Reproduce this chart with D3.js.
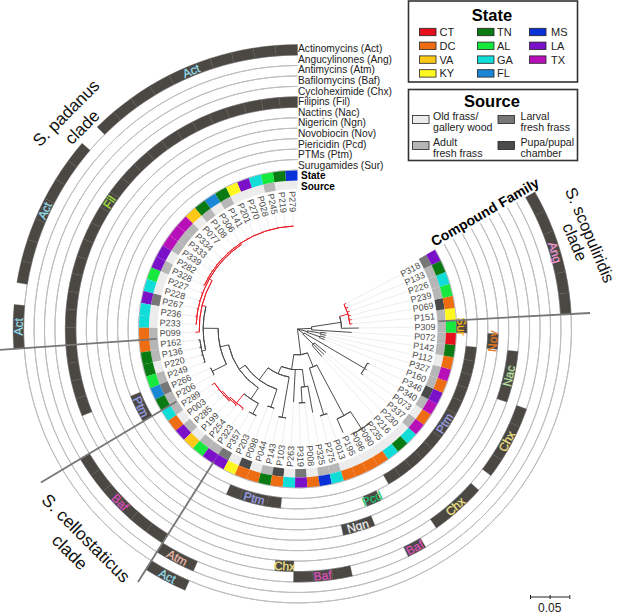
<!DOCTYPE html>
<html>
<head>
<meta charset="utf-8">
<script src="https://d3js.org/d3.v7.min.js"></script>
<style>
  body { margin: 0; background: #fff; }
  svg { display: block; font-family: "Liberation Sans", Arial, sans-serif; }
</style>
</head>
<body>
<svg id="chart"></svg>
<script>
// tips, counter-clockwise from 12 o'clock
const tipNames = ["P279","P219","P245","P028","P270","P201","P141","P306","P108","P077","P334","P333","P339","P282","P328","P227","P228","P267","P236","P233","P099","P162","P136","P220","P249","P266","P206","P289","P003","P285","P199","P254","P323","P357","P203","P098","P044","P143","P103","P263","P319","P008","P325","P275","P013","P195","P096","P090","P235","P216","P230","P337","P073","P340","P346","P160","P327","P112","P142","P072","P309","P151","P069","P239","P226","P133","P318"];
const tipStates = ["MS","TN","AL","GA","LA","KY","TN","FL","TN","VA","TX","TX","TX","LA","LA","AL","GA","LA","GA","GA","DC","DC","TN","TN","AL","FL","TN","GA","DC","LA","VA","AL","LA","LA","KY","DC","DC","TN","DC","GA","LA","DC","MS","GA","DC","DC","DC","DC","GA","TN","GA","TX","DC","TX","LA","DC","TX","DC","TN","CT","AL","KY","DC","AL","GA","TN","LA"];
const tipSources = ["old","old","adult","old","old","old","adult","old","adult","old","adult","adult","adult","old","adult","old","old","larval","old","old","adult","adult","adult","old","adult","larval","adult","adult","old","adult","old","adult","adult","larval","old","pupal","old","adult","pupal","old","larval","old","adult","adult","old","old","old","old","old","old","old","adult","old","adult","pupal","adult","adult","old","adult","adult","adult","adult","pupal","adult","adult","adult","larval"];

const stateNames = ["CT","DC","VA","KY","TN","AL","GA","FL","MS","LA","TX"];
const stateColors = ["#e8101c","#ee6c12","#fbc816","#fff820","#0a7a12","#16e83e","#10dcd8","#1a86d6","#0a30d8","#7a10c8","#b810b8"];
const sourceNames = ["old","adult","larval","pupal"];
const sourceColors = ["#ececec","#b6b6b6","#777777","#4a4a4a"];
const sourceLegend = [["Old frass/","gallery wood"],["Adult","fresh frass"],["Larval","fresh frass"],["Pupa/pupal","chamber"]];

const compoundLabels = ["Actinomycins (Act)","Angucylinones (Ang)","Antimycins (Atm)","Bafilomycins (Baf)","Cycloheximide (Chx)","Filipins (Fil)","Nactins (Nac)","Nigericin (Ngn)","Novobiocin (Nov)","Piericidin (Pcd)","PTMs (Ptm)","Surugamides (Sur)"];
const compoundCodes = ["Act","Ang","Atm","Baf","Chx","Fil","Nac","Ngn","Nov","Pcd","Ptm","Sur"];
const compoundColors = ["#93dcea","#ee9ad8","#eebca8","#dc50bc","#f2e484","#a4e23c","#bce4a8","#eeeeee","#ea7a1e","#1cc468","#9aa0e6","#f4b41e"];
// runs of producing tips per compound: [family, first tip, last tip]
const compoundRuns = [
  ["Act","P279","P077"],["Act","P333","P267"],["Act","P233","P099"],["Act","P357","P203"],
  ["Ang","P151","P318"],
  ["Atm","P357","P203"],
  ["Baf","P289","P323"],["Baf","P319","P325"],["Baf","P096","P096"],
  ["Chx","P263","P263"],["Chx","P235","P230"],["Chx","P073","P160"],
  ["Fil","P279","P249"],
  ["Nac","P327","P142"],
  ["Ngn","P275","P013"],
  ["Nov","P072","P072"],
  ["Pcd","P195","P195"],
  ["Ptm","P266","P206"],["Ptm","P098","P103"],["Ptm","P090","P142"],
  ["Sur","P309","P309"]
];

// tree: [distance from root, ...children], a tip is [name, distance from root]
const reds = ["P279","P219","P245","P028","P270","P201","P141","P306","P108","P077","P334","P333","P339","P282","P328","P227","P228","P267","P236","P233","P099","P289","P003","P285","P199","P254","P323","P151","P069","P239","P226","P133","P318"];
const tree = [0,
  [0.033,
    [0.052,
      [0.062,
        [0.081,
          [0.090,
            [0.101,
              [0.120,
                [0.125,
                  [0.129,
                    [0.131, ["P279",0.131],["P219",0.132],["P245",0.132],["P028",0.132],["P270",0.132],["P201",0.132],["P141",0.132],["P306",0.132],["P108",0.132],["P077",0.132],["P334",0.132],["P333",0.132],["P339",0.132],["P282",0.132],["P328",0.132]],
                    ["P227",0.131],["P228",0.131],["P267",0.131],["P236",0.131],["P233",0.130]],
                  ["P099",0.130]],
                [0.125, ["P162",0.127],["P136",0.127],["P220",0.127],["P249",0.127]]],
              [0.121, ["P266",0.122],["P206",0.122]]],
            [0.107,
              [0.122,
                [0.124, [0.126, ["P289",0.130],["P003",0.127],["P285",0.127],["P199",0.127]], ["P254",0.126]],
                ["P323",0.125]],
              [0.122, ["P357",0.123],["P203",0.123]]]],
          [0.105, ["P098",0.106],["P044",0.106]]],
        [0.114, ["P143",0.115],["P103",0.115]]],
      ["P263",0.093],
      [0.074,
        [0.094, ["P319",0.095],["P008",0.095]],
        ["P325",0.108]]],
    [0.052,
      [0.114, ["P275",0.115],["P013",0.115]],
      [0.125,
        ["P195",0.144],
        [0.151, ["P096",0.153],["P090",0.153],["P235",0.153]]]]],
  [0.010,
    [0.028, ["P216",0.047],["P230",0.047],["P337",0.047]],
    [0.099, ["P073",0.102],["P340",0.102],["P346",0.102]]],
  [0.013,
    [0.030, ["P160",0.037],["P327",0.037]],
    [0.030, ["P112",0.037],["P142",0.037]]],
  [0.018,
    ["P072",0.069],
    [0.056,
      ["P309",0.078],
      [0.067, ["P151",0.070],["P069",0.070],["P239",0.070],["P226",0.070],["P133",0.070],["P318",0.070]]]]
];

const cladeBreaks = ["P099","P206","P323","P309"];
const cladeNames = [
  {lines:["S. padanus","clade"], x:66, y:113, dx:16, dy:14, rot:-45, size:17},
  {lines:["S. cellostaticus","clade"], x:86, y:538, dx:-16, dy:14, rot:45, size:17.5},
  {lines:["S. scopuliridis","clade"], x:590, y:235, dx:-15, dy:7, rot:67, size:16.5}
];

const width = 617, height = 615;
const cx = 297.5, cy = 329;
const svg = d3.select("#chart").attr("width", width).attr("height", height);
const g = svg.append("g").attr("transform", `translate(${cx},${cy})`);

const rad = d => d * Math.PI / 180;
const angle = d3.scaleLinear().domain([0, tipNames.length]).range([0, -rad(300)]);
const tipIndex = new Map(tipNames.map((d, i) => [d, i]));
const tipAngle = name => angle(tipIndex.get(name) + 0.5);
const depth = d3.scaleLinear().domain([0, 0.05]).range([0, 39.3]);
const arc = d3.arc();

const stateColor = d3.scaleOrdinal(stateNames, stateColors);
const sourceColor = d3.scaleOrdinal(sourceNames, sourceColors);

const sourceR = [140, 148.5], stateR = [148.5, 158.5];
const bandBase = 159, bandStep = 10.45;
const bandInner = code => bandBase + bandStep * (compoundCodes.length - 1 - compoundCodes.indexOf(code));

// ring lines get paler towards the bottom of the page
const fade = svg.append("defs").append("linearGradient")
  .attr("id", "ringFade")
  .attr("gradientUnits", "userSpaceOnUse")
  .attr("x1", 0).attr("x2", 0).attr("y1", 430).attr("y2", 612);
fade.append("stop").attr("offset", 0).attr("stop-color", "#bcbcc2");
fade.append("stop").attr("offset", 1).attr("stop-color", "#ececec");

// compound rings, one line at the inner edge of every band
g.append("g").selectAll("path")
  .data(compoundCodes)
  .join("path")
  .attr("d", d => arc({innerRadius: bandInner(d), outerRadius: bandInner(d), startAngle: angle(0), endAngle: angle(tipNames.length)}))
  .attr("fill", "none")
  .attr("stroke", "url(#ringFade)")
  .attr("stroke-width", 1);

// compound bands
const runCells = compoundRuns.flatMap(r => d3.range(tipIndex.get(r[1]), tipIndex.get(r[2]) + 1).map(i => ({code: r[0], i})));
g.append("g").selectAll("path")
  .data(runCells)
  .join("path")
  .attr("d", d => arc({innerRadius: bandInner(d.code), outerRadius: bandInner(d.code) + bandStep, startAngle: angle(d.i), endAngle: angle(d.i + 1)}))
  .attr("fill", "#4b4844")
  .attr("stroke", "#5c5954")
  .attr("stroke-width", 0.4);

g.append("g").selectAll("text")
  .data(compoundRuns)
  .join("text")
  .attr("transform", d => {
    const a = (angle(tipIndex.get(d[1])) + angle(tipIndex.get(d[2]) + 1)) / 2;
    const deg = -a * 180 / Math.PI;
    const p = d3.pointRadial(a, bandInner(d[0]) + bandStep / 2);
    const rot = (deg > 90 && deg < 270) ? 180 - deg : -deg;
    return `translate(${p[0]},${p[1]}) rotate(${rot})`;
  })
  .attr("dy", "0.36em")
  .attr("text-anchor", "middle")
  .attr("font-size", 12)
  .attr("fill", d => compoundColors[compoundCodes.indexOf(d[0])])
  .attr("stroke", d => compoundColors[compoundCodes.indexOf(d[0])])
  .attr("stroke-width", 0.25)
  .text(d => d[0]);

// source and state rings
g.append("g").selectAll("path")
  .data(tipNames)
  .join("path")
  .attr("d", (d, i) => arc({innerRadius: sourceR[0], outerRadius: sourceR[1], startAngle: angle(i), endAngle: angle(i + 1)}))
  .attr("fill", (d, i) => sourceColor(tipSources[i]));

g.append("g").selectAll("path")
  .data(tipNames)
  .join("path")
  .attr("d", (d, i) => arc({innerRadius: stateR[0], outerRadius: stateR[1], startAngle: angle(i), endAngle: angle(i + 1)}))
  .attr("fill", (d, i) => stateColor(tipStates[i]));

// tree
const isTip = n => typeof n[0] === "string";
const root = d3.hierarchy(tree, n => isTip(n) ? null : n.slice(1));
root.eachAfter(n => {
  n.dist = n.data[0] === 0 ? 0 : (isTip(n.data) ? n.data[1] : n.data[0]);
  n.a = n.children ? (n.children[0].a + n.children[n.children.length - 1].a) / 2 : tipAngle(n.data[0]);
  n.red = n.children ? n.children.every(c => c.red) : reds.includes(n.data[0]);
});

// leader lines from tips out to the names
g.append("g").selectAll("line")
  .data(root.leaves())
  .join("line")
  .attr("x1", d => d3.pointRadial(d.a, depth(d.dist))[0])
  .attr("y1", d => d3.pointRadial(d.a, depth(d.dist))[1])
  .attr("x2", d => d3.pointRadial(d.a, 116)[0])
  .attr("y2", d => d3.pointRadial(d.a, 116)[1])
  .attr("stroke", "#efefef")
  .attr("stroke-width", 1);

const treeG = g.append("g").attr("fill", "none").attr("stroke-width", 1);
const inner = root.descendants().filter(n => n.children && n !== root);
treeG.selectAll("path.fork")
  .data(inner.sort((a, b) => a.red - b.red))
  .join("path")
  .attr("class", "fork")
  .attr("stroke", d => d.red ? "#e8202a" : "#4c4c4c")
  .attr("d", d => arc({innerRadius: depth(d.dist), outerRadius: depth(d.dist), startAngle: d.children[0].a, endAngle: d.children[d.children.length - 1].a}));

treeG.selectAll("line")
  .data(root.descendants().slice(1).sort((a, b) => a.red - b.red))
  .join("line")
  .attr("stroke", d => d.red ? "#e8202a" : "#4c4c4c")
  .attr("x1", d => d3.pointRadial(d.a, depth(d.parent.dist))[0])
  .attr("y1", d => d3.pointRadial(d.a, depth(d.parent.dist))[1])
  .attr("x2", d => d3.pointRadial(d.a, depth(d.dist))[0])
  .attr("y2", d => d3.pointRadial(d.a, depth(d.dist))[1]);

// tip names
g.append("g").selectAll("text")
  .data(tipNames)
  .join("text")
  .attr("transform", d => {
    const a = tipAngle(d), deg = -a * 180 / Math.PI;
    const p = d3.pointRadial(a, 138);
    return `translate(${p[0]},${p[1]}) rotate(${deg < 180 ? 90 - deg : 270 - deg})`;
  })
  .attr("text-anchor", d => -tipAngle(d) * 180 / Math.PI < 180 ? "start" : "end")
  .attr("dy", "0.35em")
  .attr("font-size", 9)
  .attr("fill", "#4a4a4a")
  .text(d => d);

// clade dividers
g.append("g").selectAll("line")
  .data(cladeBreaks)
  .join("line")
  .each(function(d, i) {
    const a = angle(tipIndex.get(d) + 1);
    const p0 = d3.pointRadial(a, i === 2 ? 157 : 141), p1 = d3.pointRadial(a, i === 3 ? 293 : 299);
    d3.select(this).attr("x1", p0[0]).attr("y1", p0[1]).attr("x2", p1[0]).attr("y2", p1[1]);
  })
  .attr("stroke", "#777")
  .attr("stroke-width", 1.8);

// compound names at the ring start
const labelY = d3.scaleLinear().domain([0, 11]).range([52, 169]);
const labels = svg.append("g");
labels.selectAll("text.cmp")
  .data(compoundLabels)
  .join("text")
  .attr("class", "cmp")
  .attr("x", 298)
  .attr("y", (d, i) => labelY(i))
  .attr("font-size", 10.2)
  .attr("fill", "#222")
  .text(d => d);
labels.selectAll("text.ring")
  .data(["State", "Source"])
  .join("text")
  .attr("class", "ring")
  .attr("x", 301)
  .attr("y", (d, i) => 179 + i * 10.7)
  .attr("font-size", 10)
  .attr("font-weight", "bold")
  .text(d => d);

labels.append("text")
  .attr("transform", "translate(485,212) rotate(-30)")
  .attr("text-anchor", "middle")
  .attr("dy", "0.35em")
  .attr("font-size", 14)
  .attr("font-weight", "bold")
  .text("Compound Family");

cladeNames.forEach(c => {
  c.lines.forEach((t, i) => {
    labels.append("text")
      .attr("transform", `translate(${c.x + i * c.dx},${c.y + i * c.dy}) rotate(${c.rot})`)
      .attr("text-anchor", "middle")
      .attr("dy", "0.35em")
      .attr("font-size", c.size)
      .attr("fill", "#111")
      .text(t);
  });
});

// State legend
const legend = svg.append("g");
legend.append("rect").attr("x", 408.5).attr("y", 1).attr("width", 169).attr("height", 81)
  .attr("fill", "#fff").attr("stroke", "#333").attr("stroke-width", 1.6);
legend.append("text").attr("x", 492).attr("y", 21).attr("text-anchor", "middle")
  .attr("font-size", 16.5).attr("font-weight", "bold").text("State");
const stateCol = [419.5, 477.5, 529.5], stateText = [439.5, 497, 551];
const stateRows = [4, 4, 3];
stateNames.forEach((s, i) => {
  const col = i < 4 ? 0 : i < 8 ? 1 : 2;
  const row = i - d3.sum(stateRows.slice(0, col));
  const y = 32 + row * 13.8;
  legend.append("rect").attr("x", stateCol[col]).attr("y", y - 3.7).attr("width", 16.5).attr("height", 7.4)
    .attr("fill", stateColors[i]).attr("stroke", "#222").attr("stroke-width", 0.8);
  legend.append("text").attr("x", stateText[col]).attr("y", y + 4).attr("font-size", 11).attr("fill", "#222").text(s);
});

// Source legend
legend.append("rect").attr("x", 408.5).attr("y", 89.5).attr("width", 169).attr("height", 71)
  .attr("fill", "#fff").attr("stroke", "#333").attr("stroke-width", 1.6);
legend.append("text").attr("x", 492).attr("y", 107).attr("text-anchor", "middle")
  .attr("font-size", 16.5).attr("font-weight", "bold").text("Source");
const srcSwatch = [412.5, 498], srcText = [433, 520.5];
sourceLegend.forEach((lines, i) => {
  const col = i < 2 ? 0 : 1, row = i % 2;
  const y = 119.5 + row * 26;
  legend.append("rect").attr("x", srcSwatch[col]).attr("y", y - 4).attr("width", 16.5).attr("height", 8)
    .attr("fill", sourceColors[i]).attr("stroke", "#222").attr("stroke-width", 0.8);
  lines.forEach((t, j) => {
    legend.append("text").attr("x", srcText[col]).attr("y", y + 0.5 + j * 10.7).attr("font-size", 10.6).attr("fill", "#222").text(t);
  });
});

// scale bar
const bar = svg.append("g").attr("transform", "translate(530,597)");
const barAxis = d3.axisBottom(depth).tickValues([0, 0.025, 0.05]).tickSize(0).tickFormat("");
bar.call(barAxis);
bar.select(".domain").remove();
bar.selectAll(".tick line").attr("y1", -2).attr("y2", 2).attr("stroke", "#222");
bar.append("line").attr("x1", depth(0)).attr("x2", depth(0.05)).attr("stroke", "#222");
bar.append("text").attr("x", depth(0.025)).attr("y", 15).attr("text-anchor", "middle")
  .attr("font-size", 12).attr("fill", "#222").text("0.05");
</script>
</body>
</html>
